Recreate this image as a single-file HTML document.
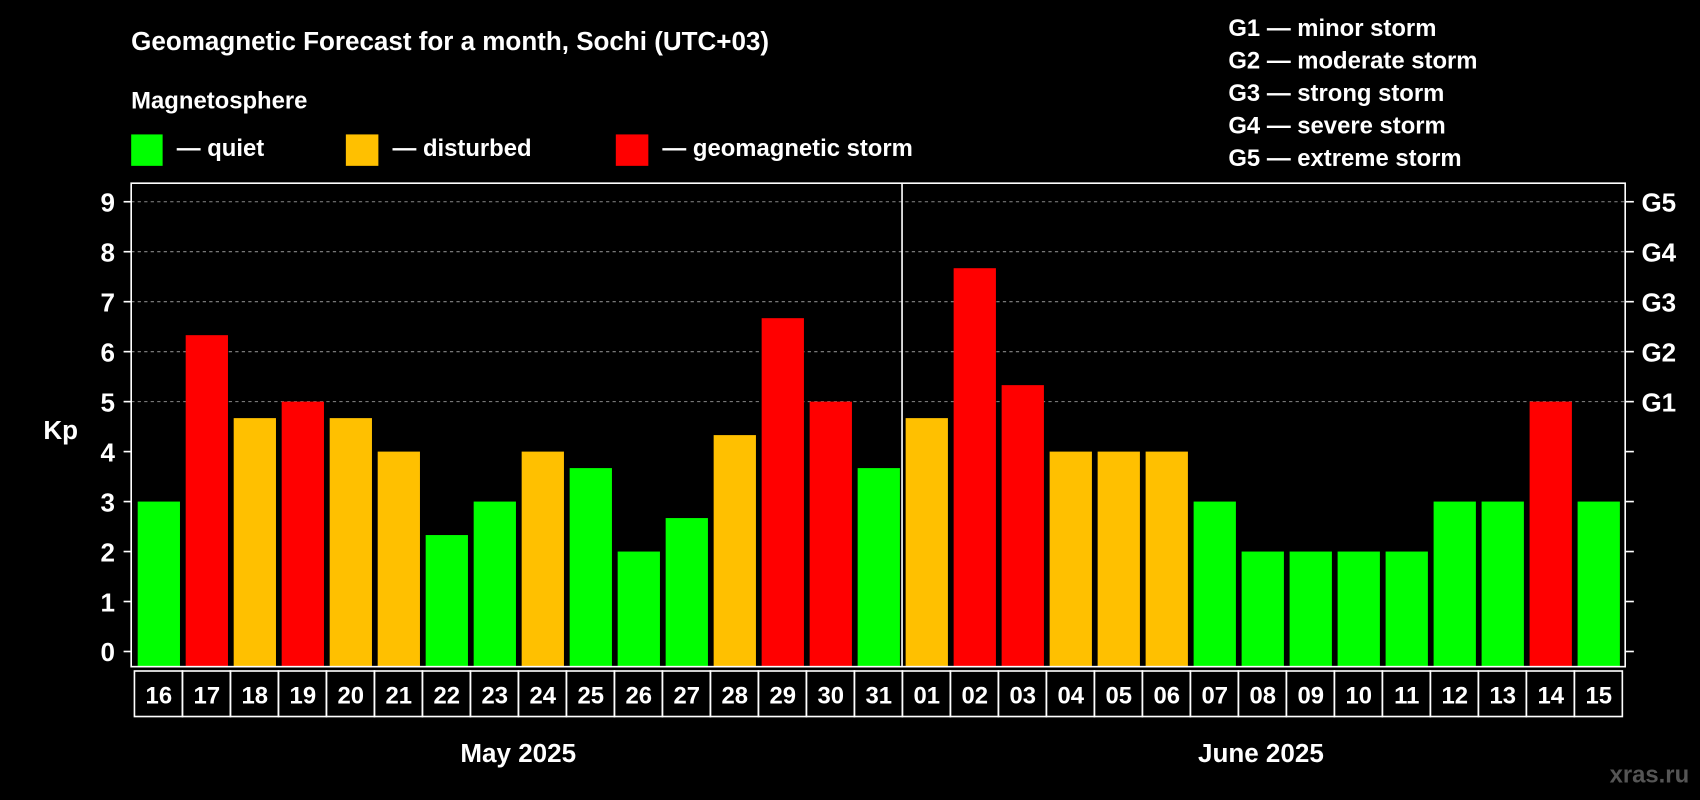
<!DOCTYPE html>
<html><head><meta charset="utf-8"><style>
html,body{margin:0;padding:0;background:#000;width:1700px;height:800px;overflow:hidden}
text{font-family:"Liberation Sans",sans-serif;font-weight:bold;fill:#fff}
</style></head><body>
<svg id="chart" width="1700" height="800" viewBox="0 0 1568 738" preserveAspectRatio="none" xmlns="http://www.w3.org/2000/svg">
<rect width="1568" height="738" fill="#000"/>
<text x="121" y="46" font-size="24">Geomagnetic Forecast for a month, Sochi (UTC+03)</text>
<text x="121" y="100" font-size="22">Magnetosphere</text>
<g><rect x="121" y="124" width="29" height="29" fill="#00ff00"/><text x="163" y="144" font-size="22">— quiet</text></g>
<g><rect x="319" y="124" width="30" height="29" fill="#ffc000"/><text x="362" y="144" font-size="22">— disturbed</text></g>
<g><rect x="568" y="124" width="30" height="29" fill="#ff0000"/><text x="611" y="144" font-size="22">— geomagnetic storm</text></g>
<g font-size="22">
<text x="1133" y="33">G1 — minor storm</text>
<text x="1133" y="63">G2 — moderate storm</text>
<text x="1133" y="93">G3 — strong storm</text>
<text x="1133" y="123">G4 — severe storm</text>
<text x="1133" y="153">G5 — extreme storm</text>
</g>
<text x="40" y="405" font-size="24">Kp</text>
<g id="grid"></g>
<g id="bars"></g>
<rect x="121" y="169" width="1378" height="446" fill="none" stroke="#fff" stroke-width="1.5"/>
<line x1="832" y1="169" x2="832" y2="615" stroke="#fff" stroke-width="1.5"/>
<g id="axes"></g>
<g id="dates"></g>
<text x="478" y="703" font-size="24" text-anchor="middle">May 2025</text>
<text x="1163" y="703" font-size="24" text-anchor="middle">June 2025</text>
<text x="1558" y="722" font-size="22" text-anchor="end" fill="#555" style="fill:#555">xras.ru</text>
</svg>
<script>
const days = ["16","17","18","19","20","21","22","23","24","25","26","27","28","29","30","31","01","02","03","04","05","06","07","08","09","10","11","12","13","14","15"];
const kpValues = [3,6.33,4.67,5,4.67,4,2.33,3,4,3.67,2,2.67,4.33,6.67,5,3.67,4.67,7.67,5.33,4,4,4,3,2,2,2,2,3,3,5,3];
const yTicks = [0,1,2,3,4,5,6,7,8,9];
const gLabels = ["","","","","","G1","G2","G3","G4","G5"];
const NS="http://www.w3.org/2000/svg";
const y0=601, yUnit=46.1, base=615, x0=127, pitch=44.27, bw=39;
function yS(v){return y0 - v*yUnit;}
function xS(i){return x0 + i*pitch;}
function mk(t,a,p){const e=document.createElementNS(NS,t);for(const k in a)e.setAttribute(k,a[k]);p.appendChild(e);return e;}
function color(v){return v>=5?"#ff0000":(v>=4?"#ffc000":"#00ff00");}
const grid=document.getElementById('grid'),axes=document.getElementById('axes'),bars=document.getElementById('bars'),dates=document.getElementById('dates');
yTicks.forEach((t,i)=>{
  const y=yS(t);
  if(t>=5){const g=mk('line',{x1:121,x2:1499,y1:y,y2:y,stroke:'#888','stroke-dasharray':'3,3','stroke-width':1},grid);
  
  }
  const l=mk('line',{x1:114,x2:121,y1:y,y2:y,stroke:'#fff','stroke-width':1.5},axes);
  
  
  const r=mk('line',{x1:1499,x2:1507,y1:y,y2:y,stroke:'#fff','stroke-width':1.5},axes);
  
  
  const tx=mk('text',{x:106,y:y+9,'font-size':24,'text-anchor':'end'},axes);tx.textContent=t;
  
  
  if(gLabels[i]){const g2=mk('text',{x:1514,y:y+9,'font-size':24},axes);g2.textContent=gLabels[i];
  
  }
});
kpValues.forEach((v,i)=>{
  const y=yS(v);
  const b=mk('rect',{x:xS(i),y:y,width:bw,height:base-y,fill:color(v)},bars);
  
  
  const c=mk('rect',{x:xS(i)-3,y:619,width:pitch,height:42,fill:'none',stroke:'#fff','stroke-width':1.5},dates);
  
  
  const t=mk('text',{x:xS(i)+bw/2,y:649,'font-size':22,'text-anchor':'middle'},dates);t.textContent=days[i];
  
  
});
</script>
</body></html>
